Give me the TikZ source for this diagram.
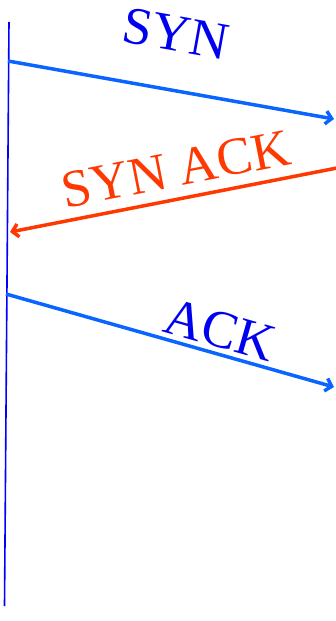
\documentclass[tikz,border=0pt]{standalone}
\usepackage{fontspec}
\setmainfont{Liberation Serif}
\usetikzlibrary{arrows.meta}
\definecolor{tline}{RGB}{0,0,255}
\definecolor{lblue}{RGB}{10,100,255}
\definecolor{tblue}{RGB}{0,0,240}
\definecolor{tred}{RGB}{255,55,0}
\tikzset{
  msg/.style={line width=3.5pt, -{Straight Barb[length=6pt,width=13pt,line width=3.5pt]}},
  lbl/.style={font=\fontsize{53}{60}\selectfont, inner sep=0pt},
}
\begin{document}
\begin{tikzpicture}[x=1pt,y=-1pt]
\useasboundingbox (0,0) rectangle (336,621);
% timeline
\coordinate (top) at (9,22);
\coordinate (bot) at (4.5,606);
\draw[tline, line width=1.6pt] (top) -- (bot);
% SYN
\coordinate (s1) at (8,61);
\coordinate (r1) at (334,119);
\draw[msg, lblue] (s1) -- (r1);
\node[lbl, tblue, rotate=-10.2] (syn) at (176,34) {SYN};
% SYN ACK
\coordinate (r2) at (337,168);
\coordinate (s2) at (10,232);
\draw[msg, tred] (r2) -- (s2);
\node[lbl, tred, rotate=11] (synack) at (176,169) {SYN ACK};
% ACK
\coordinate (s3) at (6,294);
\coordinate (r3) at (334,387);
\draw[msg, lblue] (s3) -- (r3);
\node[lbl, tblue, rotate=-16] (ack) at (220,330) {ACK};
\end{tikzpicture}
\end{document}
